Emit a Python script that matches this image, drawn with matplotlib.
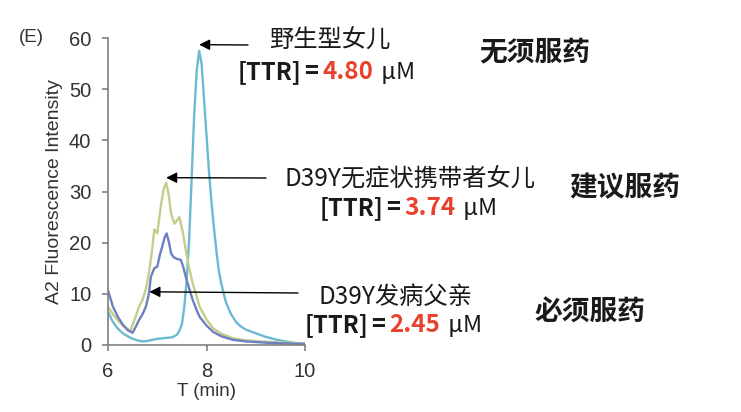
import matplotlib.pyplot as plt
import numpy as np

# ---------- Data ----------
t_wt = [6.0, 6.1, 6.2, 6.3, 6.4, 6.5, 6.6, 6.7, 6.8, 6.9, 7.0, 7.1, 7.2, 7.3, 7.4,
        7.45, 7.5, 7.55, 7.6, 7.65, 7.7, 7.75, 7.8, 7.85, 7.9, 7.95, 8.0, 8.05,
        8.1, 8.15, 8.2, 8.25, 8.3, 8.35, 8.4, 8.5, 8.6, 8.7, 8.8, 9.0, 9.2, 9.4,
        9.6, 9.8, 10.0]
y_wt = [6.5, 4.5, 3.2, 2.3, 1.7, 1.2, 0.9, 0.7, 0.8, 1.0, 1.2, 1.3, 1.4, 1.5, 2.0,
        2.8, 4.0, 7.5, 13, 21, 33, 45, 53.5, 57.5, 55, 48, 41, 34,
        28, 23, 18.5, 14.5, 12, 10, 8.2, 6.0, 4.5, 3.6, 3.0, 2.3, 1.6, 1.1,
        0.7, 0.4, 0.3]

t_carrier = [6.0, 6.1, 6.2, 6.3, 6.4, 6.46, 6.56, 6.63, 6.7, 6.77, 6.84, 6.9, 6.94,
             7.0, 7.07, 7.13, 7.18, 7.23, 7.28, 7.35, 7.45, 7.52, 7.58, 7.65, 7.72,
             7.8, 7.86, 8.0, 8.13, 8.3, 8.54, 8.8, 9.2, 9.6, 10.0]
y_carrier = [7.5, 6.0, 4.8, 3.8, 3.1, 2.9, 5.5, 7.5, 8.8, 11, 14.6, 19, 22.6,
             21.8, 27, 30.5, 31.7, 29.5, 25.7, 23.7, 25, 22, 18.5, 15, 12,
             9.5, 7.5, 5.0, 3.3, 2.2, 1.3, 0.9, 0.65, 0.45, 0.3]

t_father = [6.0, 6.1, 6.2, 6.3, 6.4, 6.5, 6.56, 6.63, 6.7, 6.77, 6.83, 6.87, 6.94,
            7.0, 7.05, 7.1, 7.15, 7.19, 7.24, 7.28, 7.33, 7.38, 7.48, 7.53, 7.58,
            7.65, 7.72, 7.8, 7.86, 8.0, 8.13, 8.3, 8.54, 8.8, 9.2, 9.6, 10.0]
y_father = [10.7, 7.5, 5.5, 4.0, 2.9, 2.4, 3.5, 4.9, 6.0, 7.5, 10, 13.3, 15,
            15.3, 17.5, 19.2, 21, 21.8, 20, 17.9, 17.2, 16.9, 16.6, 15.2, 13.3,
            11, 8.8, 6.8, 5.5, 3.8, 2.6, 1.7, 1.0, 0.7, 0.45, 0.3, 0.2]

labels = ["野生型女儿", "D39Y无症状携带者女儿", "D39Y发病父亲"]
ttr_values = ["4.80", "3.74", "2.45"]
advice = ["无须服药", "建议服药", "必须服药"]

# ---------- Figure ----------
W, H = 741, 412
fig = plt.figure(figsize=(W / 100, H / 100), dpi=100)
ax = fig.add_axes([108 / W, 1 - 345 / H, 197 / W, 307 / H])

ax.plot(t_wt, y_wt, color="#6cb9d3", lw=1.7)
ax.plot(t_carrier, y_carrier, color="#c5cd8a", lw=1.7)
ax.plot(t_father, y_father, color="#6f80c2", lw=1.7)

ax.set_xlim(6, 10)
ax.set_ylim(0, 60)
ax.set_xticks([6, 8, 10])
ax.set_yticks(range(0, 61, 10))
for s in ["top", "right"]:
    ax.spines[s].set_visible(False)
for s in ["left", "bottom"]:
    ax.spines[s].set_color("#808080")
    ax.spines[s].set_linewidth(1.2)
ax.tick_params(colors="#808080", labelcolor="#333333", length=4, width=1.2,
               labelsize=14.5)
ax.tick_params(axis="y", pad=8)
ax.tick_params(axis="x", pad=8)
for lab in ax.get_xticklabels() + ax.get_yticklabels():
    lab.set_fontfamily("Liberation Sans")
ax.set_xlabel("T (min)", fontsize=13.5, family="Liberation Sans", color="#333333",
              labelpad=2)
ax.set_ylabel("A2 Fluorescence Intensity", fontsize=14, family="Liberation Sans",
              color="#333333", labelpad=4)
fig.text(19 / W, 1 - 38 / H, "(E)", fontsize=13.5, family="Liberation Sans",
         color="#333333", va="center")

# ---------- Annotations ----------
cjk = ["Noto Sans CJK SC", "DejaVu Sans"]


def px(x, y):
    return (x / W, 1 - y / H)


# arrow tips at the features they point to (data coords)
tips = [(t_wt[int(np.argmax(y_wt))], max(y_wt) + 1.2),
        (t_carrier[int(np.argmax(y_carrier))], max(y_carrier) + 1.0),
        (6.84, 10.4)]
tails = [(248, 45), (266, 178), (298, 293)]
name_pos = [(330, 40), (410, 178), (395, 297)]
ttr_left = [(238, 72), (320, 208), (305, 325)]
advice_pos = [(535, 52), (625, 188), (590, 313)]

for i in range(3):
    ax.annotate("", xy=tips[i], xycoords="data", xytext=px(*tails[i]),
                textcoords="figure fraction",
                arrowprops=dict(arrowstyle="-|>", color="black", lw=1.0,
                                mutation_scale=16, shrinkA=0, shrinkB=0))
    fig.text(*px(*name_pos[i]), labels[i], fontsize=17.5, family=cjk,
             ha="center", va="center", color="#1a1a1a")
    t1 = fig.text(*px(*ttr_left[i]), "[TTR]", fontsize=17, family=cjk,
                  fontweight="bold", ha="left", va="center", color="#1a1a1a")
    a2 = ax.annotate("=", xy=(1, 0), xycoords=t1, xytext=(2, 0),
                     textcoords="offset points", fontsize=17, family=cjk,
                     fontweight="bold", color="#1a1a1a", va="bottom",
                     annotation_clip=False)
    a3 = ax.annotate(ttr_values[i], xy=(1, 0), xycoords=a2, xytext=(3, 0),
                     textcoords="offset points", fontsize=17.5,
                     family=cjk, fontweight="bold", color="#e8412c",
                     va="bottom", annotation_clip=False)
    ax.annotate(" μM", xy=(1, 0), xycoords=a3, xytext=(2, 0),
                textcoords="offset points", fontsize=17, family=cjk,
                color="#1a1a1a", va="bottom", annotation_clip=False)
    fig.text(*px(*advice_pos[i]), advice[i], fontsize=20, family=cjk,
             fontweight="bold", ha="center", va="center", color="#1a1a1a")

fig.savefig("out.png", dpi=100)
